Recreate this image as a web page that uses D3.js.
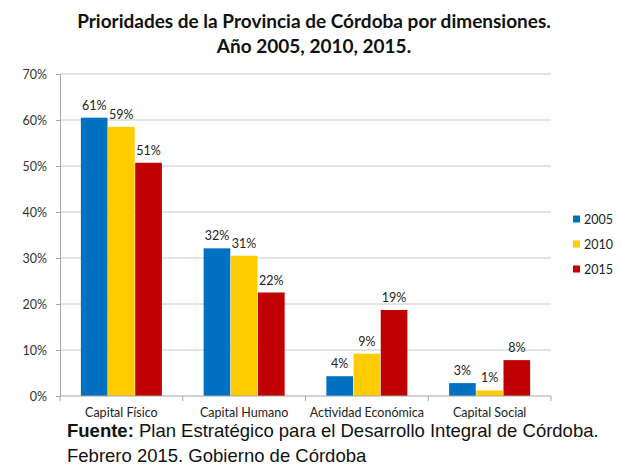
<!DOCTYPE html>
<html>
<head>
<meta charset="utf-8">
<script src="https://cdn.jsdelivr.net/npm/d3@7"></script>
<style>
  body { margin: 0; background: #fff; }
  svg { display: block; }
</style>
</head>
<body>
<svg id="chart" width="621" height="467"></svg>
<script>
// datos
const categories = ["Capital Físico", "Capital Humano", "Actividad Económica", "Capital Social"];
const years = ["2005", "2010", "2015"];
const values2005 = [60.5, 32.1, 4.3, 2.8];
const values2010 = [58.5, 30.5, 9.2, 1.2];
const values2015 = [50.7, 22.5, 18.7, 7.8];
const labels2005 = ["61%", "32%", "4%", "3%"];
const labels2010 = ["59%", "31%", "9%", "1%"];
const labels2015 = ["51%", "22%", "19%", "8%"];
const yTicks = [0, 10, 20, 30, 40, 50, 60, 70];
const colors = ["#0070C0", "#FFCC00", "#C00000"];

const series = [values2005, values2010, values2015];
const seriesLabels = [labels2005, labels2010, labels2015];

const svg = d3.select("#chart");
const font = "Lato, 'Open Sans', sans-serif";

const x0 = d3.scaleBand().domain(categories).range([60, 551]).paddingInner(0.34).paddingOuter(0.17);
const x1 = d3.scaleBand().domain(years).range([0, x0.bandwidth()]).paddingInner(0.02);
const y = d3.scaleLinear().domain([0, 70]).range([396, 74]);

// título
svg.append("text")
    .attr("x", 314).attr("y", 28)
    .attr("text-anchor", "middle")
    .style("font-family", font).style("font-weight", "bold").style("font-size", "19px")
    .attr("fill", "#111")
    .text("Prioridades de la Provincia de Córdoba por dimensiones.");
svg.append("text")
    .attr("x", 314).attr("y", 53)
    .attr("text-anchor", "middle")
    .style("font-family", font).style("font-weight", "bold").style("font-size", "19px")
    .attr("fill", "#111")
    .text("Año 2005, 2010, 2015.");

// líneas de cuadrícula
svg.append("g")
    .selectAll("line")
    .data(yTicks.filter(d => d > 0))
    .join("line")
    .attr("x1", 60).attr("x2", 551)
    .attr("y1", d => y(d)).attr("y2", d => y(d))
    .attr("stroke", "#c8c8c8").attr("stroke-width", 1);

// eje y
const yAxis = svg.append("g")
    .attr("transform", "translate(60,0)")
    .call(d3.axisLeft(y).tickValues(yTicks).tickFormat(d => d + "%").tickSize(4).tickPadding(9));
yAxis.select(".domain").attr("stroke", "#a6a6a6");
yAxis.selectAll(".tick line").attr("stroke", "#a6a6a6");
yAxis.selectAll("text")
    .style("font-family", font).style("font-size", "12.5px").attr("fill", "#333");

// barras
const groups = svg.append("g")
    .selectAll("g")
    .data(categories)
    .join("g")
    .attr("transform", d => `translate(${x0(d)},0)`);

years.forEach((yr, s) => {
    groups.append("rect")
        .attr("x", x1(yr))
        .attr("y", (d, i) => y(series[s][i]))
        .attr("width", x1.bandwidth())
        .attr("height", (d, i) => y(0) - y(series[s][i]))
        .attr("fill", colors[s]);
    groups.append("text")
        .attr("x", x1(yr) + x1.bandwidth() / 2)
        .attr("y", (d, i) => y(series[s][i]) - 8)
        .attr("text-anchor", "middle")
        .style("font-family", font).style("font-size", "12.5px")
        .attr("fill", "#222")
        .text((d, i) => seriesLabels[s][i]);
});

// eje x
const xAxis = svg.append("g").attr("transform", "translate(0,396)");
xAxis.append("line")
    .attr("x1", 60).attr("x2", 551)
    .attr("stroke", "#a6a6a6");
const bounds = d3.range(categories.length + 1).map(i => 60 + i * (551 - 60) / categories.length);
xAxis.selectAll(".tk")
    .data(bounds)
    .join("line")
    .attr("class", "tk")
    .attr("x1", d => d).attr("x2", d => d)
    .attr("y1", 0).attr("y2", 5)
    .attr("stroke", "#a6a6a6");
xAxis.selectAll("text")
    .data(categories)
    .join("text")
    .attr("x", d => x0(d) + x0.bandwidth() / 2)
    .attr("y", 21)
    .attr("text-anchor", "middle")
    .style("font-family", font).style("font-size", "12.5px")
    .attr("fill", "#222")
    .text(d => d);

// leyenda
const legend = svg.append("g")
    .selectAll("g")
    .data(years)
    .join("g")
    .attr("transform", (d, i) => `translate(573,${219 + i * 25})`);
legend.append("rect")
    .attr("x", 0).attr("y", -3.5)
    .attr("width", 7).attr("height", 7)
    .attr("fill", (d, i) => colors[i]);
legend.append("text")
    .attr("x", 11).attr("y", 4.5)
    .style("font-family", font).style("font-size", "12.5px")
    .attr("fill", "#222")
    .text(d => d);

// fuente
const src = svg.append("text")
    .attr("x", 67).attr("y", 437)
    .style("font-family", "'Liberation Sans', Arial, sans-serif").style("font-size", "18.5px")
    .attr("fill", "#111");
src.append("tspan").style("font-weight", "bold").text("Fuente:");
src.append("tspan").text(" Plan Estratégico para el Desarrollo Integral de Córdoba.");
svg.append("text")
    .attr("x", 67).attr("y", 462)
    .style("font-family", "'Liberation Sans', Arial, sans-serif").style("font-size", "18.5px")
    .attr("fill", "#111")
    .text("Febrero 2015. Gobierno de Córdoba");
</script>
</body>
</html>
